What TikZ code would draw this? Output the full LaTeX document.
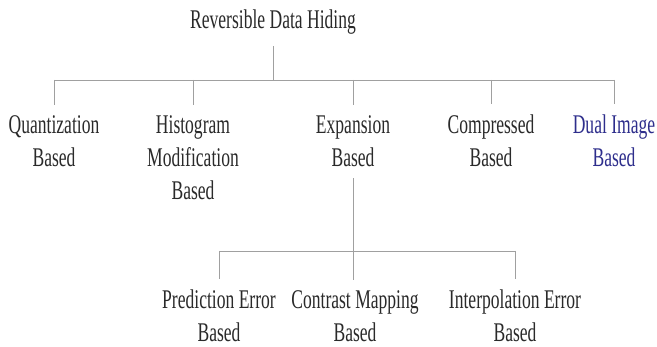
\documentclass[tikz,border=0pt]{standalone}
\usepackage{fontspec}
\setmainfont{Liberation Serif}[FakeStretch=0.65]
\definecolor{txt}{HTML}{2A2A2A}
\definecolor{blu}{HTML}{2E2E8C}
\definecolor{lncol}{HTML}{A0A0A0}
\begin{document}
\begin{tikzpicture}[x=1pt,y=-1pt,
  lbl/.style={font=\fontsize{27}{33}\selectfont, align=center, inner xsep=0pt, inner ysep=11pt, text=txt, anchor=base},
  ln/.style={draw=lncol, line width=0.9pt}]
\useasboundingbox[fill=white] (0,0) rectangle (657,347);
% nodes (anchor = baseline of last line)
\node[lbl] (root) at (273,29) {Reversible Data Hiding};
\node[lbl] (q) at (54,167) {Quantization\\Based};
\node[lbl] (h) at (193,200) {Histogram\\Modification\\Based};
\node[lbl] (e) at (353,167) {Expansion\\Based};
\node[lbl] (c) at (491,167) {Compressed\\Based};
\node[lbl, text=blu] (d) at (614,167) {Dual Image\\Based};
\node[lbl] (p) at (219,342) {Prediction Error\\Based};
\node[lbl] (cm) at (355,342) {Contrast Mapping\\Based};
\node[lbl] (ie) at (515,342) {Interpolation Error\\Based};
% bars
\coordinate (bar) at (0,80);
\coordinate (bar2) at (0,251);
\draw[ln] (root.south) -- (root.south |- bar);
\draw[ln] (q.north |- bar) -- (d.north |- bar);
\foreach \n in {q,h,e,c,d}{\draw[ln] (\n.north |- bar) -- (\n.north);}
\draw[ln] (e.south) -- (e.south |- bar2);
\draw[ln] (p.north |- bar2) -- (ie.north |- bar2);
\foreach \n in {p,ie}{\draw[ln] (\n.north |- bar2) -- (\n.north);}
\draw[ln] (e.south |- bar2) -- (e.south |- cm.north);
\end{tikzpicture}
\end{document}
